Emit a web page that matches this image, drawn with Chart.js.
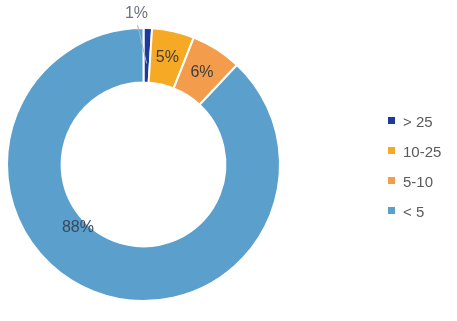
<!DOCTYPE html>
<html>
<head>
<meta charset="utf-8">
<script src="https://cdn.jsdelivr.net/npm/chart.js@4"></script>
<style>
  html, body { margin: 0; padding: 0; background: #fff; }
  #wrap { width: 457px; height: 321px; position: relative; }
</style>
</head>
<body>
<div id="wrap"><canvas id="donut"></canvas></div>
<script>
// data
const categories = ['> 25', '10-25', '5-10', '< 5'];
const shares = [1, 5, 6, 88];
const sliceColors = ['#1c3a9a', '#f6a925', '#f39c4c', '#5b9fcc'];

// draws percentage labels and the legend on the right
const labelPlugin = {
  id: 'labelPlugin',
  afterDatasetsDraw(chart) {
    const ctx = chart.ctx;
    const arcs = chart.getDatasetMeta(0).data;
    ctx.save();
    ctx.font = '16px "Liberation Sans", Arial, sans-serif';
    ctx.textAlign = 'center';
    ctx.textBaseline = 'middle';

    arcs.forEach((arc, i) => {
      const p = arc.getProps(['x', 'y', 'startAngle', 'endAngle', 'innerRadius', 'outerRadius'], true);
      let frac = 0.5, rFrac = 0.5;
      if (i === 3) { frac = 0.577; rFrac = 0.17; }
      const a = p.startAngle + (p.endAngle - p.startAngle) * frac;
      const text = shares[i] + '%';
      if (i === 0) {
        // small slice: label outside with a leader line
        const r1 = p.innerRadius + (p.outerRadius - p.innerRadius) * 0.35;
        const x1 = p.x + Math.cos(a) * r1, y1 = p.y + Math.sin(a) * r1;
        const x2 = p.x - 6, y2 = p.y - p.outerRadius - 3;
        ctx.strokeStyle = '#a9b4c2';
        ctx.lineWidth = 1;
        ctx.beginPath();
        ctx.moveTo(x1, y1);
        ctx.lineTo(x2, y2);
        ctx.stroke();
        ctx.fillStyle = '#6b7280';
        ctx.fillText(text, x2 - 1, y2 - 11);
        return;
      }
      const r = p.innerRadius + (p.outerRadius - p.innerRadius) * rFrac;
      ctx.fillStyle = i === 3 ? '#3a4a5c' : '#3d3d3d';
      ctx.fillText(text, p.x + Math.cos(a) * r, p.y + Math.sin(a) * r);
    });

    // legend
    ctx.textAlign = 'left';
    ctx.font = '15px "Liberation Sans", Arial, sans-serif';
    categories.forEach((c, i) => {
      const y = 122 + i * 30;
      ctx.fillStyle = sliceColors[i];
      ctx.fillRect(388, y - 5, 7, 7);
      ctx.fillStyle = '#5a5a5a';
      ctx.fillText(c, 403, y + 1);
    });
    ctx.restore();
  }
};

new Chart(document.getElementById('donut'), {
  type: 'doughnut',
  data: {
    labels: categories,
    datasets: [{
      data: shares,
      backgroundColor: sliceColors,
      borderColor: '#ffffff',
      borderWidth: 2
    }]
  },
  options: {
    responsive: true,
    maintainAspectRatio: false,
    animation: false,
    cutout: '60%',
    layout: { padding: { left: 6, right: 176, top: 26, bottom: 18 } },
    plugins: {
      legend: { display: false },
      tooltip: { enabled: false }
    }
  },
  plugins: [labelPlugin]
});
</script>
</body>
</html>
